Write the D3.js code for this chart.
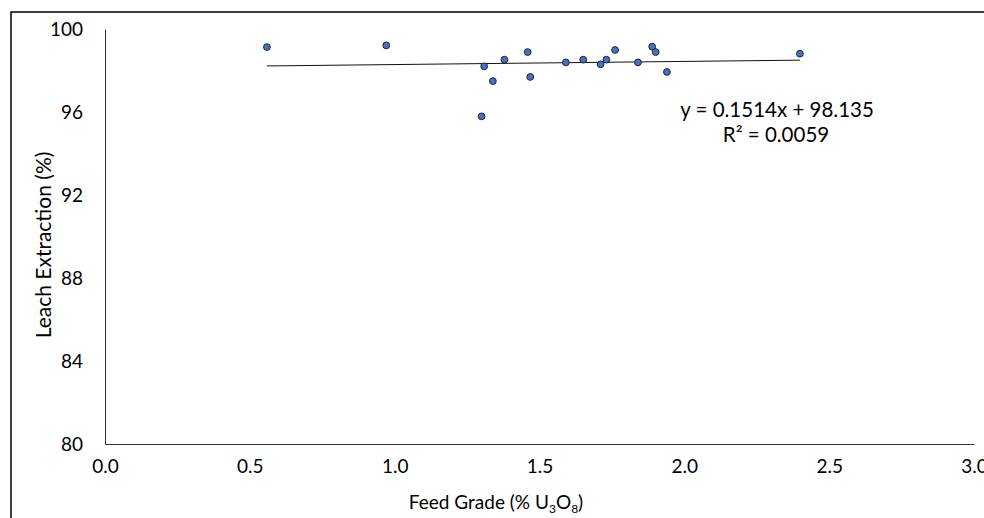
<!DOCTYPE html>
<html>
<head>
<meta charset="utf-8">
<script src="https://cdn.jsdelivr.net/npm/d3@7"></script>
<style>
  html, body { margin: 0; padding: 0; background: #fff; }
  svg { display: block; }
  text { font-family: Lato, "Open Sans", sans-serif; fill: #000; }
</style>
</head>
<body>
<svg id="chart" width="984" height="518"></svg>
<script>
// Feed grade (% U3O8) vs. leach extraction (%) for each test
const feedGrade = [0.559, 0.971, 1.300, 1.309, 1.339, 1.379, 1.459, 1.468, 1.591,
                   1.651, 1.711, 1.731, 1.761, 1.840, 1.889, 1.901, 1.940, 2.399];
const leachExtraction = [99.13, 99.21, 95.79, 98.20, 97.49, 98.52, 98.89, 97.69, 98.39,
                         98.52, 98.30, 98.52, 98.99, 98.39, 99.15, 98.89, 97.93, 98.81];

// Linear trendline as reported on the chart
const trendSlope = 0.1514;
const trendIntercept = 98.135;
const trendR2 = 0.0059;

const xTicks = [0, 0.5, 1.0, 1.5, 2.0, 2.5, 3.0];
const yTicks = [80, 84, 88, 92, 96, 100];

const svg = d3.select("#chart");

// chart area frame
svg.append("rect")
  .attr("x", 11).attr("y", 12)
  .attr("width", 1000).attr("height", 540)
  .attr("fill", "none").attr("stroke", "#000").attr("stroke-width", 1.5);

const x = d3.scaleLinear().domain([0, 3]).range([105, 974]);
const y = d3.scaleLinear().domain([80, 100]).range([444, 29]);

const tickFont = 19;
const labelFont = 21;
const eqFont = 20.5;

// y axis
const yAxis = svg.append("g")
  .attr("transform", `translate(${x(0)},0)`)
  .call(d3.axisLeft(y).tickValues(yTicks).tickSize(0).tickPadding(22).tickFormat(d3.format("d")));
yAxis.select(".domain").attr("stroke", "#333").attr("stroke-width", 1);
yAxis.selectAll("text").style("font-size", tickFont + "px").style("font-family", "Lato, sans-serif").attr("fill", "#000");

// x axis
const xAxis = svg.append("g")
  .attr("transform", `translate(0,${y(80)})`)
  .call(d3.axisBottom(x).tickValues(xTicks).tickSize(0).tickPadding(16).tickFormat(d3.format(".1f")));
xAxis.select(".domain").attr("stroke", "#333").attr("stroke-width", 1);
xAxis.selectAll("text").style("font-size", tickFont + "px").style("font-family", "Lato, sans-serif").attr("fill", "#000");

// trendline across the range of the data
const xMin = d3.min(feedGrade), xMax = d3.max(feedGrade);
svg.append("line")
  .attr("x1", x(xMin)).attr("y1", y(trendSlope * xMin + trendIntercept))
  .attr("x2", x(xMax)).attr("y2", y(trendSlope * xMax + trendIntercept))
  .attr("stroke", "#111").attr("stroke-width", 1);

// data points
svg.append("g").selectAll("circle")
  .data(feedGrade.map((g, i) => ({ g, e: leachExtraction[i] })))
  .join("circle")
  .attr("cx", d => x(d.g))
  .attr("cy", d => y(d.e))
  .attr("r", 3.4)
  .attr("fill", "#4472C4")
  .attr("stroke", "#1a1a1a")
  .attr("stroke-width", 0.9);

// trendline equation
const eq = svg.append("g").attr("text-anchor", "middle").style("font-size", eqFont + "px");
eq.append("text").attr("x", 777).attr("y", 117)
  .text(`y = ${trendSlope}x + ${trendIntercept}`);
eq.append("text").attr("x", 776).attr("y", 142)
  .text(`R² = ${trendR2}`);

// axis titles
const xTitle = svg.append("text")
  .attr("x", 496).attr("y", 509)
  .attr("text-anchor", "middle")
  .style("font-size", tickFont + "px");
xTitle.append("tspan").text("Feed Grade (% U");
xTitle.append("tspan").attr("dy", 4).style("font-size", "12px").text("3");
xTitle.append("tspan").attr("dy", -4).text("O");
xTitle.append("tspan").attr("dy", 4).style("font-size", "12px").text("8");
xTitle.append("tspan").attr("dy", -4).text(")");

svg.append("text")
  .attr("transform", "translate(51,245) rotate(-90)")
  .attr("text-anchor", "middle")
  .style("font-size", labelFont + "px")
  .text("Leach Extraction (%)");
</script>
</body>
</html>
